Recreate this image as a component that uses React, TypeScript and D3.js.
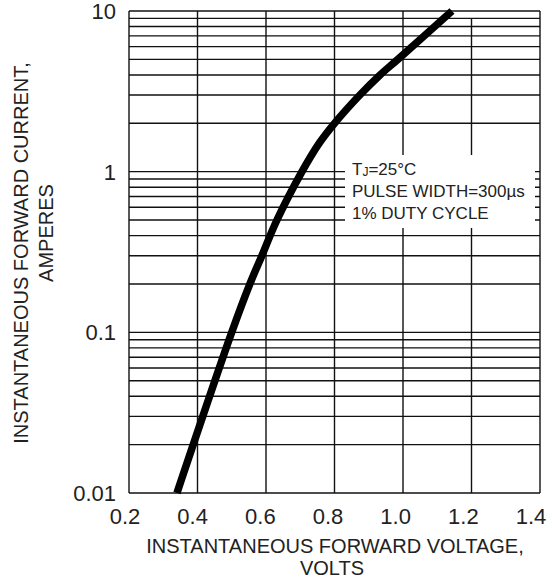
import React, { useEffect, useRef } from 'react';
import * as d3 from 'd3';

// forward characteristic
const volts = [0.34, 0.5, 0.553, 0.588, 0.632, 0.705, 0.755, 0.8, 0.874, 0.933, 0.985, 1.143];
const amps = [0.01, 0.1, 0.2, 0.3, 0.5, 1, 1.5, 2, 3, 4, 5, 10];

const xTicks = [0.2, 0.4, 0.6, 0.8, 1.0, 1.2, 1.4];
const yTicks = [0.01, 0.1, 1, 10];
const yTickLabels = ['0.01', '0.1', '1', '10'];

const noteLines = ['PULSE WIDTH=300µs', '1% DUTY CYCLE'];

const FONT = 'Liberation Sans, Arial, Helvetica, sans-serif';

const App = () => {
  const svgRef = useRef<SVGSVGElement | null>(null);

  useEffect(() => {
    if (!svgRef.current) return;
    const svg = d3.select(svgRef.current);
    svg.selectAll('*').remove();

    const margin = { left: 129, right: 11, top: 11, bottom: 87 };
    const width = 551;
    const height = 580;
    const x = d3.scaleLinear().domain([0.2, 1.4]).range([margin.left, width - margin.right]);
    // tick numbers sit a little left of their gridlines in the original
    const xLabel = d3.scaleLinear().domain([0.2, 1.4]).range([125, 531]);
    const y = d3.scaleLog().domain([0.01, 10]).range([height - margin.bottom, margin.top]);

    // horizontal grid: every 1..9 in each decade
    const hLines: number[] = [];
    [0.01, 0.1, 1].forEach(d => {
      for (let k = 1; k <= 10; k++) hLines.push(+(d * k).toPrecision(3));
    });
    const grid = svg.append('g').attr('stroke', '#111').attr('stroke-width', 1.4);
    grid.selectAll('.h')
      .data(Array.from(new Set(hLines)))
      .enter().append('line')
      .attr('x1', x(0.2)).attr('x2', x(1.4))
      .attr('y1', d => y(d)).attr('y2', d => y(d));
    grid.selectAll('.v')
      .data(xTicks)
      .enter().append('line')
      .attr('x1', d => x(d)).attr('x2', d => x(d))
      .attr('y1', d => (d === 1.2 ? y(9) : y(10))).attr('y2', y(0.01));

    // white panel behind the test conditions
    svg.append('rect')
      .attr('x', 345).attr('y', 155)
      .attr('width', 190).attr('height', 73)
      .attr('fill', '#fff');

    const note = svg.append('g')
      .attr('font-family', FONT)
      .attr('font-size', 17)
      .attr('fill', '#222');
    const tj = note.append('text').attr('x', 352).attr('y', 175);
    tj.append('tspan').text('T');
    tj.append('tspan').attr('font-size', 12).attr('dy', 1).text('J');
    tj.append('tspan').attr('dy', -1).text('=25°C');
    note.selectAll('.l')
      .data(noteLines)
      .enter().append('text')
      .attr('x', 352)
      .attr('y', (d, i) => 197 + i * 21.5)
      .text(d => d);

    // curve
    const line = d3.line<number>()
      .x((d, i) => x(volts[i]))
      .y(d => y(d))
      .curve(d3.curveCatmullRom.alpha(0.5));
    svg.append('path')
      .datum(amps)
      .attr('d', line)
      .attr('fill', 'none')
      .attr('stroke', '#000')
      .attr('stroke-width', 7.5)
      .attr('stroke-linecap', 'butt');

    // tick labels
    svg.append('g')
      .attr('font-family', FONT).attr('font-size', 22).attr('fill', '#222')
      .selectAll('text')
      .data(xTicks)
      .enter().append('text')
      .attr('x', d => xLabel(d))
      .attr('y', 524)
      .attr('text-anchor', 'middle')
      .text(d => d.toFixed(1));

    svg.append('g')
      .attr('font-family', FONT).attr('font-size', 22).attr('fill', '#222')
      .selectAll('text')
      .data(yTicks)
      .enter().append('text')
      .attr('x', 116)
      .attr('y', d => y(d))
      .attr('dy', '0.36em')
      .attr('text-anchor', 'end')
      .text((d, i) => yTickLabels[i]);

    // axis titles
    const titles = svg.append('g')
      .attr('font-family', FONT).attr('font-size', 20).attr('fill', '#222')
      .attr('text-anchor', 'middle');
    titles.append('text').attr('x', 335).attr('y', 553).text('INSTANTANEOUS FORWARD VOLTAGE,');
    titles.append('text').attr('x', 332).attr('y', 575).text('VOLTS');
    titles.append('text').attr('transform', 'translate(28,253) rotate(-90)').text('INSTANTANEOUS FORWARD CURRENT,');
    titles.append('text').attr('transform', 'translate(53,233) rotate(-90)').text('AMPERES');
  }, []);

  return (
    <svg
      ref={svgRef}
      width={551}
      height={580}
      style={{ position: 'absolute', left: 0, top: 0, background: '#fff' }}
    />
  );
};

export default App;
